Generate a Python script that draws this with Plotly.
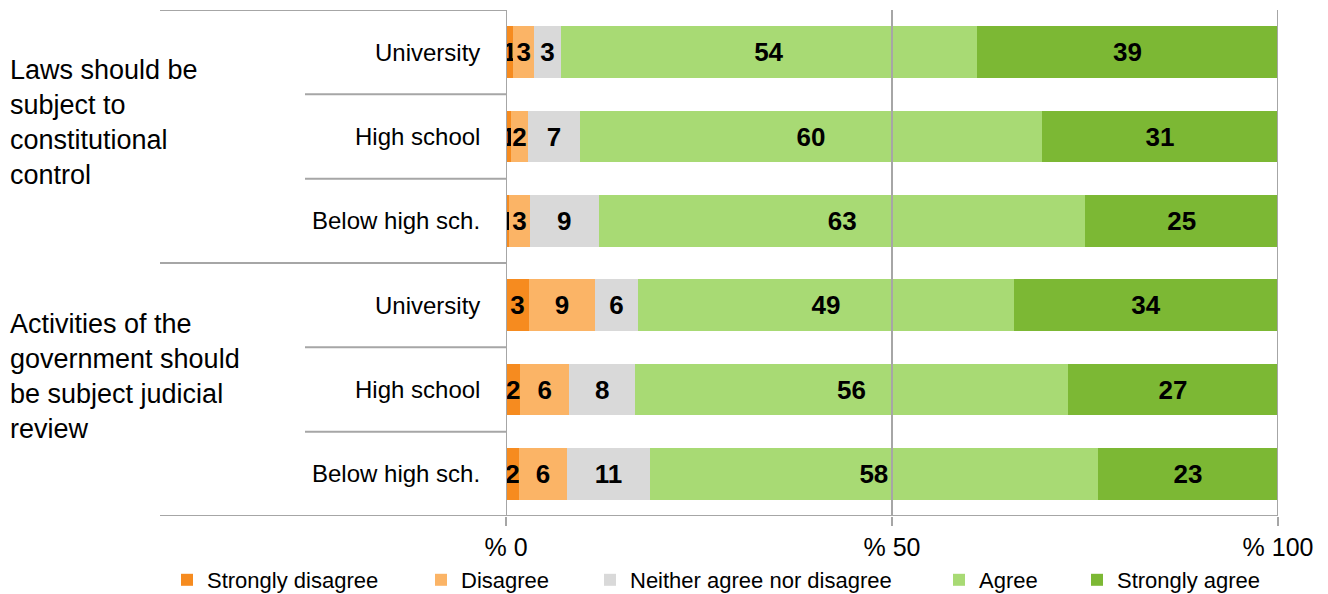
import plotly.graph_objects as go

groups = ["Laws should be<br>subject to<br>constitutional<br>control",
          "Activities of the<br>government should<br>be subject judicial<br>review"]
categories = ["University", "High school", "Below high sch."]
row_keys = ["L-U", "L-H", "L-B", "A-U", "A-H", "A-B"]

series_names = ["Strongly disagree", "Disagree", "Neither agree nor disagree", "Agree", "Strongly agree"]
colors = ["#F68B1F", "#FBB466", "#D9D9D9", "#A8DA74", "#7CB834"]

strongly_disagree = [0.95, 0.7, 0.45, 3.0, 1.85, 1.7]
disagree = [2.7, 2.1, 2.6, 8.5, 6.35, 6.2]
neither = [3.45, 6.8, 9.0, 5.6, 8.5, 10.75]
agree = [53.9, 59.8, 63.0, 48.7, 56.1, 58.0]
strongly_agree = [39.0, 30.6, 24.95, 34.2, 27.2, 23.35]

lbl_strongly_disagree = ["1", "1", "1", "3", "2", "2"]
lbl_disagree = ["3", "2", "3", "9", "6", "6"]
lbl_neither = ["3", "7", "9", "6", "8", "11"]
lbl_agree = ["54", "60", "63", "49", "56", "58"]
lbl_strongly_agree = ["39", "31", "25", "34", "27", "23"]

tick_vals = [0, 50, 100]
tick_text = ["% 0", "% 50", "% 100"]

values = [strongly_disagree, disagree, neither, agree, strongly_agree]
labels = [lbl_strongly_disagree, lbl_disagree, lbl_neither, lbl_agree, lbl_strongly_agree]

FONT = "Liberation Sans, Arial, sans-serif"
LINE = "#A6A6A6"
PL, PW, PT, PH = 506, 772, 10, 506   # plot area in pixels

legend_ids = ["legend", "legend2", "legend3", "legend4", "legend5"]
legend_px = [181, 435, 604, 953, 1091]   # marker left edges

fig = go.Figure()
for name, col, vals, lbls, lid in zip(series_names, colors, values, labels, legend_ids):
    fig.add_trace(go.Bar(
        y=row_keys, x=vals, name=name, orientation="h", legend=lid,
        marker=dict(color=col, line=dict(width=0)),
        text=lbls, textposition="inside", insidetextanchor="middle",
        textangle=0, constraintext="none",
        textfont=dict(family=FONT, size=26, color="black", weight="bold"),
        hoverinfo="skip",
    ))

legends = {}
for lid, px in zip(legend_ids, legend_px):
    legends[lid] = dict(orientation="h", x=(px - 14 - PL) / PW, xanchor="left",
                        y=(PT + PH - 580) / PH, yanchor="middle",
                        font=dict(size=22, family=FONT, color="black"),
                        itemwidth=30, bgcolor="rgba(0,0,0,0)", borderwidth=0,
                        itemclick=False, itemdoubleclick=False)

fig.update_layout(
    barmode="stack", bargap=0.39,
    width=1328, height=594,
    margin=dict(l=PL, r=1328 - PL - PW, t=PT, b=594 - PT - PH, autoexpand=False),
    paper_bgcolor="white", plot_bgcolor="white",
    font=dict(family=FONT, size=22, color="black"),
    xaxis=dict(range=[0, 100], tickvals=tick_vals, ticktext=tick_text,
               showgrid=False, zeroline=False, showline=False,
               ticks="outside", ticklen=9, tickcolor=LINE, tickwidth=2,
               tickfont=dict(size=25, family=FONT, color="black"),
               automargin=False),
    yaxis=dict(categoryorder="array", categoryarray=row_keys, range=[5.5, -0.5],
               showticklabels=False, showgrid=False, zeroline=False, automargin=False),
    showlegend=True,
    **legends,
)

for xv in tick_vals:
    fig.add_shape(type="line", xref="x", yref="paper", x0=xv, x1=xv, y0=0, y1=1,
                  line=dict(color=LINE, width=2))

left_edge = (160 - PL) / PW
cat_edge = (305 - PL) / PW
fig.add_shape(type="line", xref="paper", yref="y", x0=left_edge, x1=0, y0=-0.5, y1=-0.5,
              line=dict(color=LINE, width=2))
fig.add_shape(type="line", xref="paper", yref="y", x0=left_edge, x1=0, y0=2.5, y1=2.5,
              line=dict(color=LINE, width=2))
fig.add_shape(type="line", xref="paper", yref="y", x0=left_edge, x1=1, y0=5.5, y1=5.5,
              line=dict(color=LINE, width=2))
for yv in [0.5, 1.5, 3.5, 4.5]:
    fig.add_shape(type="line", xref="paper", yref="y", x0=cat_edge, x1=0, y0=yv, y1=yv,
                  line=dict(color=LINE, width=2))

for i, key in enumerate(row_keys):
    fig.add_annotation(xref="paper", yref="y", x=(482 - PL) / PW, y=key,
                       text=categories[i % 3], showarrow=False, xanchor="right",
                       yanchor="middle", font=dict(size=24, family=FONT, color="black"))

for g, yc in zip(groups, [0.83, 3.84]):
    fig.add_annotation(xref="paper", yref="y", x=(8 - PL) / PW, y=yc,
                       text=g, showarrow=False, xanchor="left", yanchor="middle",
                       align="left", font=dict(size=27, family=FONT, color="black"))

fig.write_html("out.html", config={"displayModeBar": False},
               post_script="document.body.style.margin='0';")
